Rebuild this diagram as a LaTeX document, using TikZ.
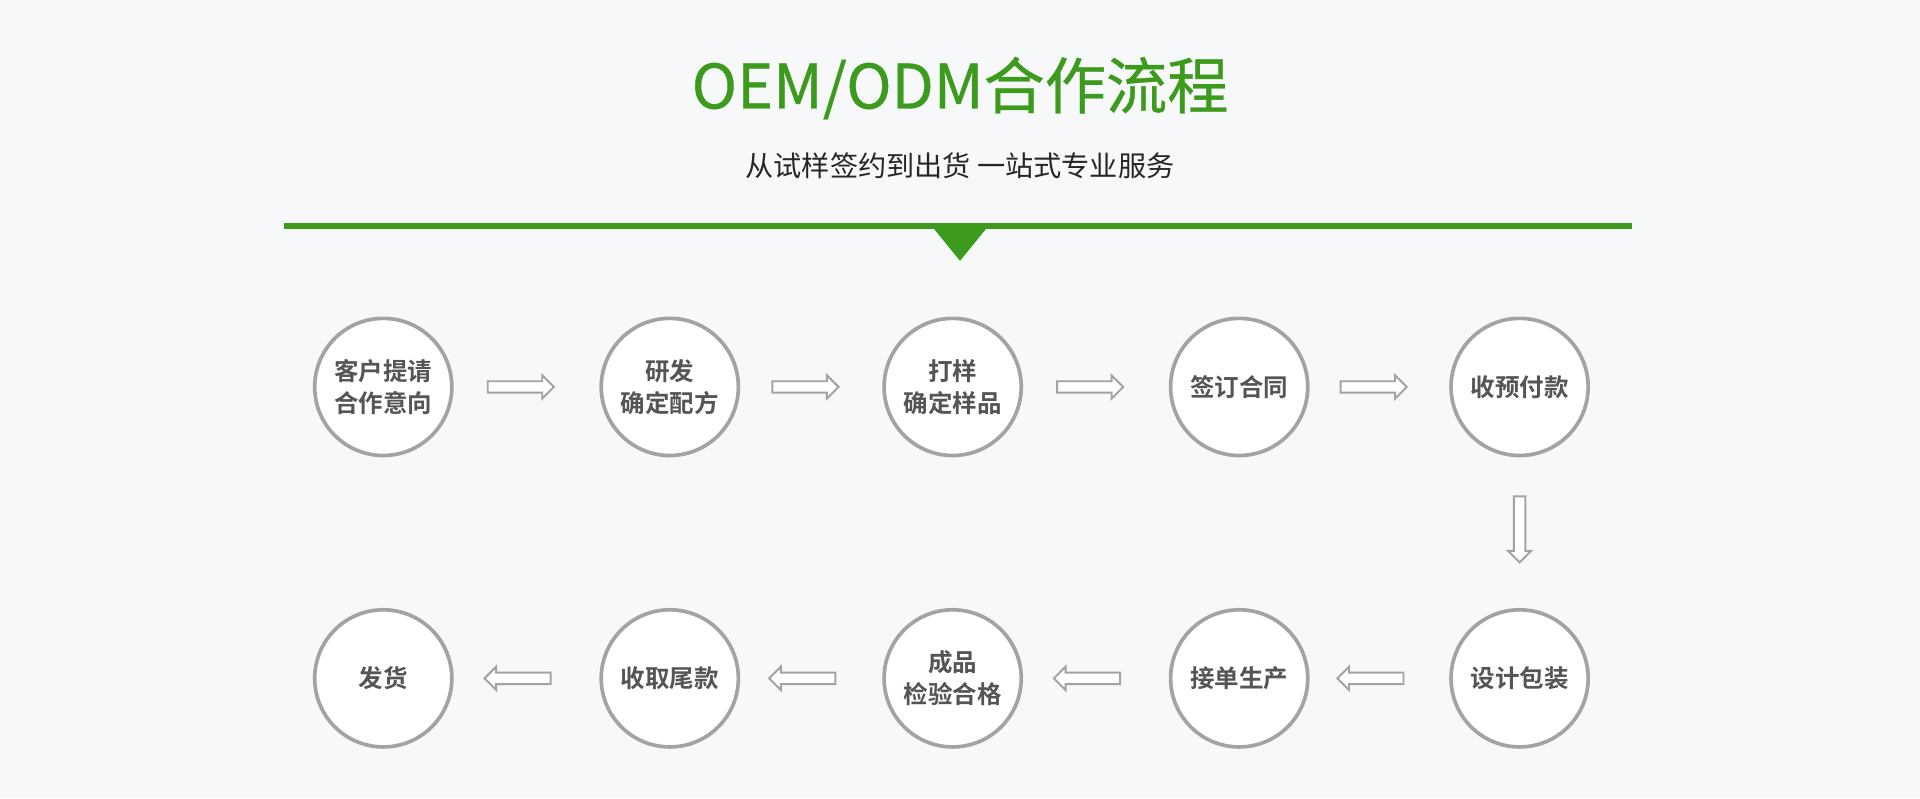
\documentclass[tikz,border=0pt]{standalone}
\usepackage{fontspec}
\newfontfamily\cjk{Noto Sans CJK SC}
\newfontfamily\cjkt{Noto Sans CJK SC}[FakeBold=0.6]
\newfontfamily\cjkb{Noto Sans CJK SC}[BoldFont={Noto Sans CJK SC Bold}]
\usetikzlibrary{shapes.arrows,calc}
\definecolor{bg}{HTML}{F7F8FA}
\definecolor{grn}{HTML}{3C9A1C}
\definecolor{ring}{HTML}{A3A3A3}
\definecolor{txt}{HTML}{555555}
\begin{document}
\begin{tikzpicture}[x=0.5pt,y=-0.5pt,
  stage/.style={circle,draw=ring,line width=1.5pt,fill=white,minimum size=112*0.5pt,inner sep=0pt,
    align=center,font=\cjkb\bfseries\fontsize{10}{13}\selectfont,text=txt},
  blk/.style={single arrow,draw=ring,fill=white,line width=0.8pt,minimum height=27pt,minimum width=9.5pt,
    single arrow head extend=2.3pt,inner sep=1.8pt}]
\fill[bg] (0,0) rectangle (1568,652);
\useasboundingbox (0,0) rectangle (1568,652);
\node[font=\cjkt\fontsize{25}{28}\selectfont,text=grn] (title) at (784,72) {OEM/ODM合作流程};
\node[font=\cjk\fontsize{11.5}{13}\selectfont,text=black!85] (sub) at (784,135) {从试样签约到出货 一站式专业服务};
\fill[grn] (232,182) rectangle (1333,187);
\fill[grn] (762,186) -- (806,186) -- (784,213) -- cycle;
\foreach \n/\x/\y/\t in {a/313/316/{客户提请\\合作意向},b/547/316/{研发\\确定配方},c/778/316/{打样\\确定样品},
  d/1012/316/{签订合同},e/1241/316/{收预付款},f/1241/554/{设计包装},g/1012/554/{接单生产},
  h/778/554/{成品\\检验合格},i/547/554/{收取尾款},j/313/554/{发货}}
  \node[stage] (\n) at (\x,\y) {\t};
\foreach \p/\q/\r in {a/b/0,b/c/0,c/d/0,d/e/0}
  \node[blk,rotate=\r] at ($(\p)!0.5!(\q)+(-7,0)$) {};
\foreach \p/\q/\r in {f/g/180,g/h/180,h/i/180,i/j/180}
  \node[blk,rotate=\r] at ($(\p)!0.5!(\q)+(-5,0)$) {};
\node[blk,rotate=-90] at ($(e)!0.5!(f)+(0,-5)$) {};
\end{tikzpicture}
\end{document}
